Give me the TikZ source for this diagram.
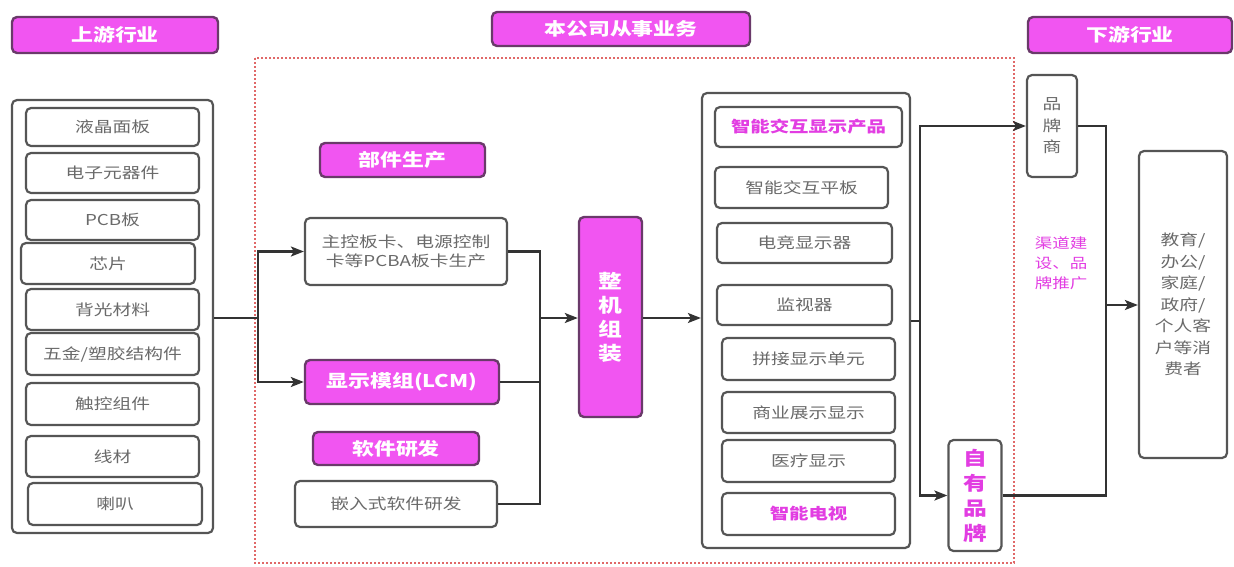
\documentclass[tikz,border=0pt]{standalone}
\usepackage{fontspec}
\usepackage{xcolor}
\setmainfont[FakeStretch=1.25]{Noto Sans CJK SC}
\usetikzlibrary{arrows.meta}
\definecolor{pinkfill}{HTML}{F155F1}
\definecolor{pinkedge}{HTML}{6A3A6A}
\definecolor{pinktext}{HTML}{E23DE2}
\definecolor{boxgray}{HTML}{555555}
\definecolor{textgray}{HTML}{6A6A6A}
\definecolor{linegray}{HTML}{333333}
\definecolor{dotred}{HTML}{E06868}

\begin{document}
\begin{tikzpicture}[x=1pt, y=-1pt,
  box/.style={draw=boxgray, line width=2.2pt, rounded corners=5pt, fill=white,
    text=textgray, align=center, inner sep=0pt, font=\fontsize{15}{19}\selectfont},
  pinkbox/.style={box, draw=pinkedge, line width=2.4pt, fill=pinkfill, text=white,
    font=\fontsize{17.5}{21}\selectfont\bfseries},
  pinkword/.style={box, text=pinktext, font=\fontsize{15.5}{19}\selectfont\bfseries},
  link/.style={draw=linegray, line width=2.2pt},
  arrow/.style={link, -{Stealth[length=13pt, width=10pt, inset=3pt]}}]
  \useasboundingbox (0,0) rectangle (1234,566);

  % Headers
  \node[pinkbox, minimum width=206, minimum height=36] (uphead) at (115,35) {上游行业};
  \node[pinkbox, minimum width=258, minimum height=34] (comphead) at (621,29) {本公司从事业务};
  \node[pinkbox, minimum width=204, minimum height=36] (downhead) at (1130,35) {下游行业};

  % Company frame
  \draw[dotred, line width=2pt, dash pattern=on 2pt off 2pt] (255,58) rectangle (1014,563);

  % Upstream
  \node[box, minimum width=201, minimum height=433] (upbox) at (112.5,316.5) {};
  \node[box, minimum width=173, minimum height=38] (panel) at (112.5,127) {液晶面板};
  \node[box, minimum width=173, minimum height=40] (parts) at (112.5,173) {电子元器件};
  \node[box, minimum width=173, minimum height=40] (pcb) at (112.5,220) {PCB板};
  \node[box, minimum width=174, minimum height=41] (chip) at (108,263.5) {芯片};
  \node[box, minimum width=173, minimum height=41] (backlight) at (112.5,309.5) {背光材料};
  \node[box, minimum width=173, minimum height=42] (metal) at (112.5,354) {五金/塑胶结构件};
  \node[box, minimum width=173, minimum height=42] (touch) at (112.5,404) {触控组件};
  \node[box, minimum width=173, minimum height=41] (wire) at (112.5,456.5) {线材};
  \node[box, minimum width=174, minimum height=42] (speaker) at (115,504) {喇叭};

  % Company business
  \node[pinkbox, minimum width=165, minimum height=34] (parthead) at (402.5,160) {部件生产};
  \node[box, minimum width=202, minimum height=67] (pcba) at (406,251.5) {主控板卡、电源控制\\卡等PCBA板卡生产};
  \node[pinkbox, minimum width=194, minimum height=44] (lcm) at (402,382) {显示模组(LCM)};
  \node[pinkbox, minimum width=166, minimum height=33] (softhead) at (396,448.5) {软件研发};
  \node[box, minimum width=202, minimum height=46] (soft) at (396,504) {嵌入式软件研发};
  \node[pinkbox, minimum width=63, minimum height=200, font=\fontsize{19}{24}\selectfont\bfseries]
    (assembly) at (610.5,317) {整\\机\\组\\装};

  % Products
  \node[box, minimum width=208, minimum height=455] (prodbox) at (806,320.5) {};
  \node[pinkword, minimum width=187, minimum height=40] (prodhead) at (808.5,127) {智能交互显示产品};
  \node[box, minimum width=173, minimum height=41] (tablet) at (801.5,187.5) {智能交互平板};
  \node[box, minimum width=175, minimum height=40] (gaming) at (804.5,243) {电竞显示器};
  \node[box, minimum width=175, minimum height=40] (monitor) at (804.5,305) {监视器};
  \node[box, minimum width=173, minimum height=42] (splice) at (808.5,359) {拼接显示单元};
  \node[box, minimum width=173, minimum height=41] (commercial) at (808.5,412.5) {商业展示显示};
  \node[box, minimum width=173, minimum height=42] (medical) at (808.5,461) {医疗显示};
  \node[pinkword, minimum width=173, minimum height=42] (tv) at (808.5,514) {智能电视};

  % Downstream
  \node[box, minimum width=50, minimum height=102, font=\fontsize{15}{21.5}\selectfont] (brand) at (1052,126) {品\\牌\\商};
  \node[pinkword, minimum width=53, minimum height=111, font=\fontsize{19}{25}\selectfont\bfseries]
    (own) at (975,495.5) {自\\有\\品\\牌};
  \node[text=pinktext, align=center, inner sep=0pt, font=\fontsize{14}{20}\selectfont] (channel) at (1061,263) {渠道建\\设、品\\牌推广};
  \node[box, minimum width=88, minimum height=307, font=\fontsize{15}{21.5}\selectfont] (consumer) at (1183,304.5)
    {教育/\\办公/\\家庭/\\政府/\\个人客\\户等消\\费者};

  % Upstream to parts
  \coordinate (split1) at (258,318);
  \draw[link] (upbox.east |- split1) -- (split1);
  \draw[arrow] (split1) |- (pcba.west);
  \draw[arrow] (split1) |- (lcm.west);

  % Parts to assembly
  \coordinate (join1) at (540,318);
  \draw[link] (pcba.east) -| (join1);
  \draw[link] (lcm.east) -| (join1);
  \draw[link] (soft.east) -| (join1);
  \draw[arrow] (join1) -- (assembly.west |- join1);

  % Assembly to products
  \draw[arrow] (assembly.east |- join1) -- (prodbox.west |- join1);

  % Products to sales
  \coordinate (split2) at (920,321);
  \draw[link] (prodbox.east |- split2) -- (split2);
  \draw[arrow] (split2) |- (brand.west);
  \draw[arrow] (split2) |- (own.west);

  % Sales to consumers
  \coordinate (join2) at (1106,305);
  \draw[link] (brand.east) -| (join2);
  \draw[link] (own.east) -| (join2);
  \draw[arrow] (join2) -- (consumer.west |- join2);
\end{tikzpicture}
\end{document}
